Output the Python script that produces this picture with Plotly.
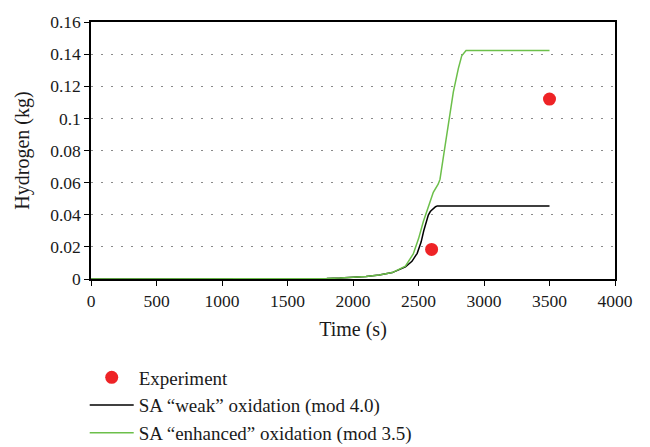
import plotly.graph_objects as go

# Simulated hydrogen production (kg) vs time (s)
weak_t = [0, 1700, 1800, 1900, 2000, 2100, 2200, 2300, 2400, 2450, 2490, 2520, 2540, 2560, 2575, 2590, 2613, 2630, 2644, 3500]
weak_h = [0, 0, 0.0003, 0.0006, 0.001, 0.0016, 0.0025, 0.004, 0.0075, 0.011, 0.016, 0.023, 0.030, 0.036, 0.0398, 0.042, 0.0438, 0.045, 0.0455, 0.0455]

enh_t = [0, 1700, 1800, 1900, 2000, 2100, 2200, 2300, 2400, 2460, 2500, 2537, 2580, 2613, 2650, 2664, 2690, 2715, 2740, 2766, 2804, 2830, 2863, 3500]
enh_h = [0, 0, 0.0003, 0.0006, 0.001, 0.0016, 0.0025, 0.004, 0.008, 0.0156, 0.025, 0.0358, 0.046, 0.054, 0.059, 0.062, 0.076, 0.090, 0.102, 0.1165, 0.131, 0.139, 0.1422, 0.1422]

# Measured values
exp_t = [2600, 3500]
exp_h = [0.0184, 0.112]

x_ticks = [0, 500, 1000, 1500, 2000, 2500, 3000, 3500, 4000]
y_ticks = [0, 0.02, 0.04, 0.06, 0.08, 0.1, 0.12, 0.14, 0.16]
y_labels = ["0", "0.02", "0.04", "0.06", "0.08", "0.1", "0.12", "0.14", "0.16"]

font_family = "Liberation Serif"

fig = go.Figure()
fig.add_trace(go.Scatter(
    x=exp_t, y=exp_h, mode="markers", name="Experiment",
    marker=dict(color="#ee2326", size=13),
))
fig.add_trace(go.Scatter(
    x=weak_t, y=weak_h, mode="lines", name="SA \u201cweak\u201d oxidation (mod 4.0)",
    line=dict(color="#000000", width=1.5),
))
fig.add_trace(go.Scatter(
    x=enh_t, y=enh_h, mode="lines", name="SA \u201cenhanced\u201d oxidation (mod 3.5)",
    line=dict(color="#6cbf4a", width=1.5),
))

fig.update_layout(
    width=650, height=447,
    margin=dict(l=91, r=35, t=15, b=168),
    paper_bgcolor="white", plot_bgcolor="white",
    font=dict(family=font_family, size=17.5, color="#1a1a1a"),
    showlegend=True,
    legend=dict(
        x=-0.012, y=0.198, xanchor="left", yanchor="top", yref="container",
        bgcolor="rgba(0,0,0,0)", font=dict(size=19),
        tracegroupgap=0, itemwidth=44,
    ),
)

fig.update_xaxes(
    range=[0, 4000], tickvals=x_ticks, ticktext=[str(v) for v in x_ticks],
    showgrid=False, zeroline=False,
    showline=True, linecolor="black", linewidth=2, mirror=True,
    ticks="outside", ticklen=5, tickcolor="black", tickwidth=1,
    title=dict(text="Time (s)", standoff=12, font=dict(size=20)),
    tickfont=dict(size=17.5),
)
fig.update_yaxes(
    range=[0, 0.16], tickvals=y_ticks, ticktext=y_labels,
    showgrid=True, gridcolor="#8a8a8a", gridwidth=1.2, griddash="2px,8px",
    zeroline=False,
    showline=True, linecolor="black", linewidth=1.5, mirror=True,
    ticks="outside", ticklen=5, tickcolor="black", tickwidth=1,
    title=dict(text="Hydrogen (kg)", standoff=15, font=dict(size=20)),
    tickfont=dict(size=17.5),
)

fig.write_html("out.html")
